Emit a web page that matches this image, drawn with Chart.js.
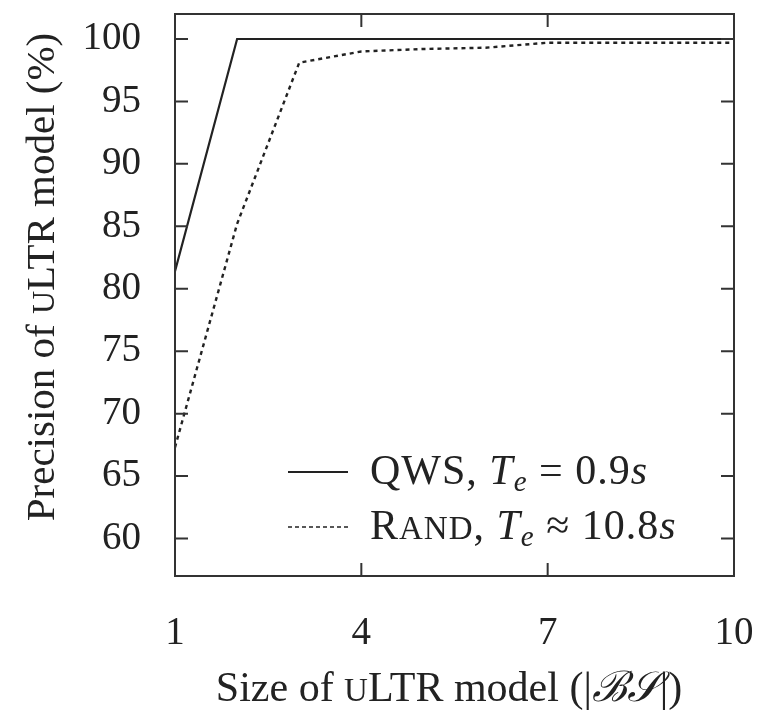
<!DOCTYPE html>
<html>
<head>
<meta charset="utf-8">
<script src="https://cdn.jsdelivr.net/npm/chart.js@4.4.1/dist/chart.umd.min.js"></script>
<style>
  body { margin: 0; background: #fff; }
  #wrap { width: 757px; height: 712px; }
</style>
</head>
<body>
<div id="wrap"><canvas id="myChart"></canvas></div>
<script>
//------Data------
const sizes = [1, 2, 3, 4, 5, 6, 7, 8, 9, 10];
const qwsValues = [81.4, 100, 100, 100, 100, 100, 100, 100, 100, 100];
const randValues = [67.3, 85.2, 98.1, 99.0, 99.2, 99.3, 99.7, 99.7, 99.7, 99.7];
const xTicks = [1, 4, 7, 10];
const yTicks = [60, 65, 70, 75, 80, 85, 90, 95, 100];
//--------------

const serif = '"Liberation Serif", "DejaVu Serif", serif';
const ink = '#222';
const fs = 39;

function font(size, style) {
  return (style || '') + ' ' + size + 'px ' + serif;
}

// draws a list of text pieces one after another (for small caps, italics, subscripts)
function drawRich(ctx, segs, x, y, align) {
  let total = 0;
  segs.forEach(s => { ctx.font = s.f; total += ctx.measureText(s.t).width; });
  let cx = align === 'center' ? x - total / 2 : x;
  segs.forEach(s => {
    ctx.font = s.f;
    ctx.fillText(s.t, cx, y + (s.dy || 0));
    cx += ctx.measureText(s.t).width;
  });
}

// no extra room for overhanging tick labels
function noPad(s) {
  s.paddingTop = 0;
  s.paddingBottom = 0;
  s.paddingLeft = 0;
  s.paddingRight = 0;
}

//---Frame, inner ticks, titles, legend
const decor = {
  id: 'decor',
  afterDatasetsDraw(chart) {
    const ctx = chart.ctx;
    const a = chart.chartArea;
    const xs = chart.scales.x;
    const ys = chart.scales.y;
    const tl = 13;

    ctx.save();
    ctx.strokeStyle = '#333';
    ctx.lineWidth = 2;
    ctx.strokeRect(a.left, a.top, a.right - a.left, a.bottom - a.top);

    ctx.beginPath();
    xTicks.forEach(v => {
      const px = xs.getPixelForValue(v);
      ctx.moveTo(px, a.bottom); ctx.lineTo(px, a.bottom - tl);
      ctx.moveTo(px, a.top); ctx.lineTo(px, a.top + tl);
    });
    yTicks.forEach(v => {
      const py = ys.getPixelForValue(v);
      ctx.moveTo(a.left, py); ctx.lineTo(a.left + tl, py);
      ctx.moveTo(a.right, py); ctx.lineTo(a.right - tl, py);
    });
    ctx.stroke();

    ctx.fillStyle = ink;
    ctx.textBaseline = 'alphabetic';
    ctx.textAlign = 'left';

    // x title
    const xf = 42;
    drawRich(ctx, [
      { t: 'Size of ', f: font(xf) },
      { t: 'U', f: font(Math.round(xf * 0.78)) },
      { t: 'LTR model (|', f: font(xf) },
      { t: 'ℬ𝒮', f: font(xf, 'italic') },
      { t: '|)', f: font(xf) }
    ], 449, 701, 'center');

    // y title
    const yf = 41;
    ctx.save();
    ctx.translate(54, 277);
    ctx.rotate(-Math.PI / 2);
    drawRich(ctx, [
      { t: 'Precision of ', f: font(yf) },
      { t: 'U', f: font(Math.round(yf * 0.78)) },
      { t: 'LTR model (%)', f: font(yf) }
    ], 0, 0, 'center');
    ctx.restore();

    // legend
    const lf = 42;
    const lsm = Math.round(lf * 0.78);
    const lsub = Math.round(lf * 0.7);
    const lx0 = 288, lx1 = 348, tx = 370;
    const rows = [
      { y: 472, dash: [], segs: [
        { t: 'QWS, ', f: font(lf) },
        { t: 'T', f: font(lf, 'italic') },
        { t: 'e', f: font(lsub, 'italic'), dy: 7 },
        { t: ' = 0.9', f: font(lf) },
        { t: 's', f: font(lf, 'italic') }
      ] },
      { y: 527, dash: [4, 3], segs: [
        { t: 'R', f: font(lf) },
        { t: 'AND', f: font(lsm) },
        { t: ', ', f: font(lf) },
        { t: 'T', f: font(lf, 'italic') },
        { t: 'e', f: font(lsub, 'italic'), dy: 7 },
        { t: ' ≈ 10.8', f: font(lf) },
        { t: 's', f: font(lf, 'italic') }
      ] }
    ];
    rows.forEach(r => {
      ctx.strokeStyle = ink;
      ctx.lineWidth = r.dash.length ? 1.6 : 2;
      ctx.setLineDash(r.dash);
      ctx.beginPath();
      ctx.moveTo(lx0, r.y); ctx.lineTo(lx1, r.y);
      ctx.stroke();
      ctx.setLineDash([]);
      ctx.letterSpacing = '1px';
      drawRich(ctx, r.segs, tx, r.y + 12, 'left');
      ctx.letterSpacing = '0px';
    });
    ctx.restore();
  }
};

//---Chart js---
const ctxx = document.getElementById('myChart').getContext('2d');

new Chart(ctxx, {
  type: 'line',
  data: {
    labels: sizes,
    datasets: [
      {
        label: 'QWS',
        data: sizes.map((s, i) => ({ x: s, y: qwsValues[i] })),
        borderColor: ink,
        borderWidth: 2.2,
        pointRadius: 0,
        tension: 0
      },
      {
        label: 'Rand',
        data: sizes.map((s, i) => ({ x: s, y: randValues[i] })),
        borderColor: ink,
        borderWidth: 2.4,
        borderDash: [4, 4],
        pointRadius: 0,
        tension: 0
      }
    ]
  },
  options: {
    responsive: true,
    maintainAspectRatio: false,
    animation: false,
    layout: { padding: { left: 0, top: 14, right: 23, bottom: 0 } },
    plugins: {
      legend: { display: false },
      tooltip: { enabled: false }
    },
    scales: {
      x: {
        type: 'linear',
        min: 1,
        max: 10,
        afterBuildTicks: s => { s.ticks = xTicks.map(v => ({ value: v })); },
        afterFit: s => { s.height = 136; noPad(s); },
        grid: { display: false, drawTicks: false },
        border: { display: false },
        ticks: {
          color: ink,
          padding: 34,
          maxRotation: 0,
          autoSkip: false,
          font: { family: serif, size: fs }
        }
      },
      y: {
        type: 'linear',
        min: 57,
        max: 102,
        afterBuildTicks: s => { s.ticks = yTicks.map(v => ({ value: v })); },
        afterFit: s => { s.width = 175; noPad(s); },
        grid: { display: false, drawTicks: false },
        border: { display: false },
        ticks: {
          color: ink,
          padding: 34,
          autoSkip: false,
          font: { family: serif, size: fs }
        }
      }
    }
  },
  plugins: [decor]
});
//-----------------------
</script>
</body>
</html>
